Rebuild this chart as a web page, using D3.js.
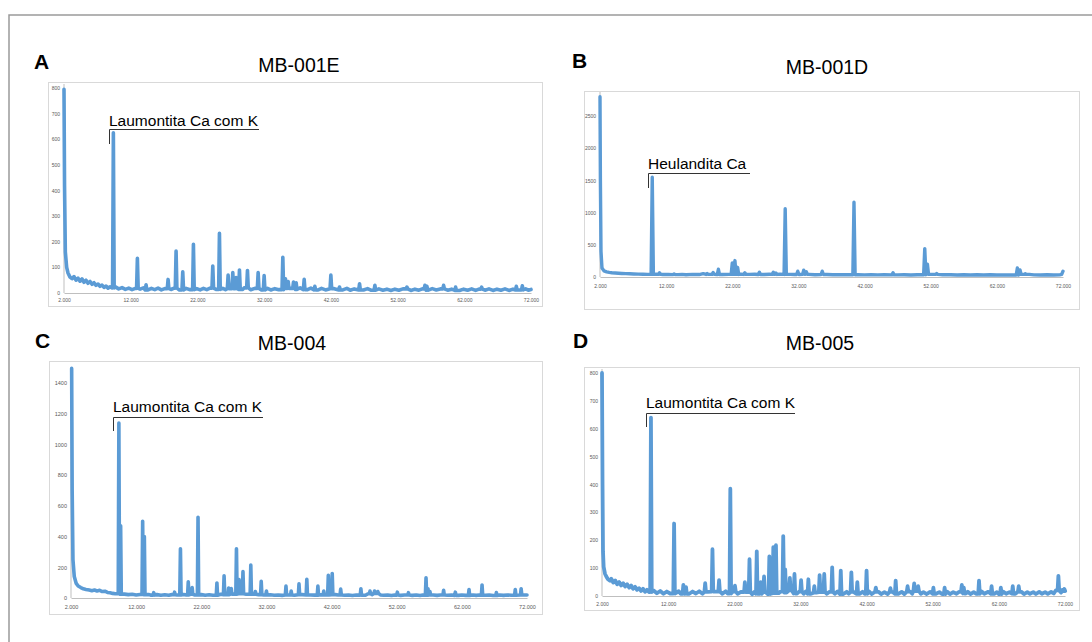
<!DOCTYPE html>
<html><head><meta charset="utf-8">
<script src="https://cdn.jsdelivr.net/npm/d3@7"></script>
<style>body{margin:0;background:#fff}svg{display:block;font-family:"Liberation Sans",Arial,sans-serif}</style>
</head><body>
<svg id="c" width="1092" height="642"></svg>
<script>
// ---------- DATA ----------
const xTicks=[2,12,22,32,42,52,62,72];
const xTickLabels=["2.000","12.000","22.000","32.000","42.000","52.000","62.000","72.000"];
const yTicksA=[0,100,200,300,400,500,600,700,800];
const yTicksB=[0,500,1000,1500,2000,2500];
const yTicksC=[0,200,400,600,800,1000,1200,1400];
const yTicksD=[0,100,200,300,400,500,600,700,800];
const panelLetters=["A","B","C","D"];
const sampleNames=["MB-001E","MB-001D","MB-004","MB-005"];
const phaseLabels=["Laumontita Ca com K","Heulandita Ca","Laumontita Ca com K","Laumontita Ca com K"];

// background points [2theta, counts]
const baseA=[[2.0,795],[2.08,420],[2.2,160],[2.4,100],[2.6,78],[2.9,62],[3.2,56],[3.5,64],[3.8,50],[4.1,58],[4.4,46],[4.7,55],[5.0,42],[5.3,50],[5.6,38],[5.9,45],[6.2,34],[6.5,40],[6.8,30],[7.1,35],[7.4,26],[7.7,31],[8.0,22],[8.3,27],[8.6,19],[8.9,24],[9.2,20],
[9.7,24],[10.2,16],[10.7,21],[11.2,14],[11.7,19],[12.2,13],[12.7,18],[13.4,15],[13.9,20],[14.6,12],[15.1,18],[15.6,13],[16.1,19],[16.6,12],[17.1,17],[18.1,14],[18.5,19],[19.3,12],[20.3,18],[20.9,13],[21.9,17],[22.4,12],[22.9,18],[23.4,13],[23.9,19],[24.8,14],[25.8,18],[26.2,13],[27.0,17],[28.8,14],[29.0,20],[30.0,13],[30.6,18],[31.6,12],[32.5,18],[33.0,12],[33.6,17],[34.2,13],[35.9,18],[36.9,14],[37.4,20],[38.5,13],[39.0,19],[40.1,12],[40.6,18],[41.2,12],[42.5,17],[43.8,12],[44.4,18],[44.9,11],[45.5,16],[46.9,12],[47.5,17],[48.0,11],[49.2,16],[49.8,11],[50.4,15],[51.0,10],[51.6,15],[52.2,11],[52.8,16],[54.0,10],[54.6,15],[55.2,11],[55.7,16],[56.6,11],[57.2,17],[57.8,12],[58.4,16],[59.5,11],[60.1,15],[61.3,10],[61.9,15],[62.5,11],[63.1,16],[63.7,10],[64.2,15],[65.1,11],[65.7,16],[66.3,10],[66.9,15],[67.5,11],[68.1,16],[68.7,10],[69.3,15],[70.2,12],[71.2,16],[71.6,11],[72.0,14]];
const peaksA=[[9.4,625],[13.0,135],[14.3,32],[17.6,53],[18.8,164],[19.8,83],[21.4,190],[24.3,105],[25.3,233],[26.6,70],[27.3,80],[27.8,60],[28.3,90],[29.5,88],[31.1,80],[32.0,68],[34.8,139],[35.2,55],[35.6,45],[36.4,43],[36.8,40],[38.0,53],[39.6,26],[42.0,70],[43.3,23],[46.3,36],[48.6,30],[53.4,23],[56.1,30],[56.4,26],[58.9,30],[60.7,23],[64.6,23],[69.8,26],[70.7,28]];

const baseB=[[2.0,2800],[2.06,1500],[2.15,400],[2.3,140],[2.6,95],[3.0,80],[3.4,72],[3.8,66],[4.3,62],[4.8,58],[5.3,55],[5.9,52],[6.5,50],[7.1,47],[7.8,45],[8.5,42],[9.2,40],[10.5,42],[11.5,38],[12.3,40],[13.8,37],[14.4,40],[15.0,36],[16.0,40],[17.0,38],[17.6,52],[18.6,40],[20.5,38],[21.5,40],[23.3,45],[24.6,40],[25.4,42],[26.8,38],[27.6,42],[29.2,45],[30.8,40],[31.4,38],[33.6,40],[34.5,36],[36.3,38],[37.2,35],[38.0,37],[39.0,34],[39.8,36],[41.0,35],[42.0,33],[43.0,36],[44.0,33],[45.0,35],[47.0,33],[48.0,35],[49.0,32],[50.0,36],[52.2,40],[53.8,34],[55.0,35],[56.0,31],[57.0,34],[58.0,31],[59.0,34],[60.0,31],[61.0,34],[62.0,30],[63.0,33],[64.0,31],[66.9,40],[67.6,33],[68.6,31],[69.6,34],[70.6,30],[71.5,33],[71.8,40],[72.0,90]];
const peaksB=[[9.9,1550],[11.0,65],[13.2,48],[18.2,55],[19.1,70],[19.9,120],[22.0,220],[22.4,255],[22.8,150],[23.9,65],[26.1,75],[28.2,75],[28.6,60],[30.0,1060],[31.9,90],[32.8,105],[33.2,80],[35.6,90],[40.4,1160],[46.3,65],[51.1,440],[51.5,200],[52.9,55],[65.1,140],[65.5,110],[66.3,50]];

const baseC=[[2.1,1495],[2.18,700],[2.3,250],[2.5,140],[2.8,95],[3.1,78],[3.5,68],[3.9,60],[4.3,56],[4.8,52],[5.2,48],[5.6,52],[6.0,46],[6.4,50],[6.8,42],[7.2,44],[7.6,36],[8.0,34],[8.4,30],[8.8,28],
[10.2,25],[10.8,22],[11.4,24],[12.0,20],[12.6,23],[13.9,22],[14.2,19],[15.2,22],[15.8,18],[16.4,21],[17.0,18],[17.5,22],[18.3,20],[19.3,23],[19.7,20],[20.3,24],[21.0,20],[22.0,22],[22.6,18],[23.2,21],[23.8,18],[25.0,24],[25.9,22],[26.9,25],[28.0,28],[28.9,24],[30.0,25],[30.8,22],[31.6,20],[32.6,21],[33.2,18],[33.8,20],[34.4,17],[35.4,20],[36.3,18],[37.5,22],[38.8,20],[39.4,19],[40.4,21],[41.0,20],[42.6,22],[43.0,20],[44.0,18],[44.6,20],[45.2,16],[45.8,19],[47.2,18],[47.6,28],[48.2,22],[48.9,30],[49.5,20],[50.0,18],[50.6,20],[51.2,16],[51.7,19],[52.6,17],[53.2,20],[54.4,17],[55.0,20],[55.6,16],[56.0,19],[57.6,20],[58.2,17],[58.7,20],[59.8,18],[60.4,20],[61.5,17],[62.0,20],[62.6,17],[63.7,19],[64.2,17],[64.7,19],[65.6,18],[66.2,20],[66.8,16],[67.8,20],[68.4,17],[69.0,20],[69.6,18],[71.5,20],[72.0,20]];
const peaksC=[[9.35,1140],[9.62,470],[13.0,500],[13.26,400],[14.7,35],[17.9,38],[18.8,320],[20.0,105],[20.6,68],[21.5,525],[24.4,98],[25.5,145],[26.2,65],[26.6,62],[27.4,320],[27.8,120],[28.4,172],[29.6,215],[30.3,42],[31.2,108],[32.0,45],[35.0,78],[35.8,45],[37.0,92],[38.2,122],[39.9,78],[40.8,45],[41.5,148],[42.1,160],[43.4,58],[46.5,60],[47.9,45],[48.6,45],[49.1,42],[52.1,38],[53.8,35],[56.5,132],[56.8,60],[57.1,42],[59.2,50],[61.0,38],[63.1,55],[65.1,85],[67.3,35],[70.2,55],[71.1,60]];

const baseD=[[2.0,800],[2.08,400],[2.15,160],[2.25,105],[2.45,80],[2.65,70],[2.9,60],[3.2,55],[3.4,62],[3.7,48],[4.0,56],[4.3,42],[4.6,50],[4.9,38],[5.2,46],[5.5,34],[5.8,42],[6.1,30],[6.4,38],[6.7,26],[7.0,33],[7.3,22],[7.6,28],[7.9,18],[8.2,26],[8.5,15],[8.8,22],[9.1,14],
[9.8,20],[10.3,10],[10.8,18],[11.3,8],[11.8,16],[12.3,9],[13.6,17],[13.9,8],[15.2,8],[15.7,16],[16.2,9],[16.7,17],[17.2,8],[18.0,15],[19.2,16],[20.2,8],[20.7,17],[21.0,9],[21.8,16],[22.5,8],[23.0,15],[24.0,14],[24.7,6],[25.0,14],[25.7,8],[26.8,14],[27.0,7],[28.7,10],[29.0,16],[29.9,12],[30.7,20],[31.5,9],[31.8,16],[32.5,8],[32.8,16],[33.6,8],[34.4,12],[35.2,14],[36.0,8],[36.4,15],[37.2,8],[37.6,16],[38.5,7],[39.0,15],[39.3,8],[40.0,15],[41.0,8],[41.4,15],[41.7,8],[42.4,16],[42.8,7],[43.8,15],[44.2,7],[44.7,14],[45.2,7],[45.9,15],[46.8,8],[47.3,15],[47.7,7],[48.6,16],[48.9,8],[49.5,18],[50.2,8],[50.6,14],[51.1,7],[51.6,15],[52.5,8],[53.0,14],[53.4,7],[54.2,15],[54.6,7],[55.1,14],[55.6,8],[56.0,15],[57.0,9],[57.3,15],[57.7,7],[58.2,14],[58.6,8],[59.4,16],[59.8,8],[60.4,15],[61.3,8],[61.7,14],[62.0,7],[62.7,15],[63.1,8],[63.6,14],[64.5,8],[65.4,15],[65.8,7],[66.3,14],[66.7,8],[67.2,14],[67.6,7],[68.1,15],[68.5,8],[69.0,14],[69.4,8],[69.9,15],[70.3,9],[70.6,20],[71.4,12],[71.6,22],[72.0,18]];
const peaksD=[[9.4,640],[12.9,260],[14.3,40],[14.7,32],[17.6,46],[18.7,168],[19.7,57],[21.4,385],[22.1,37],[23.6,50],[24.3,132],[25.4,160],[26.0,50],[26.5,70],[27.3,142],[27.9,175],[28.3,182],[29.4,215],[29.7,95],[30.4,65],[31.1,79],[32.1,57],[33.2,60],[34.1,35],[34.9,75],[35.6,79],[36.8,103],[38.1,91],[39.7,85],[40.6,50],[42.0,91],[43.4,30],[45.6,28],[46.4,55],[48.2,35],[49.2,45],[49.8,35],[52.1,30],[53.8,30],[56.4,40],[56.7,30],[59.0,55],[60.9,35],[62.3,30],[64.1,35],[65.0,35],[71.0,72],[71.9,25]];

// ---------- LAYOUT ----------
const layouts=[
 {frame:[48,82,542,306],px:[64,531],py:[293,88],yMax:800,ticks:yTicksA,base:baseA,peaks:peaksA,hw:0.12,sw:3.6,
  letter:[34,69],title:[299,72],ann:{x:109,y:126,ly:129,x2:259,vb:144},tf:5,xly:302},
 {frame:[584,91,1079,309],px:[600,1063],py:[277,116],yMax:2500,ticks:yTicksB,base:baseB,peaks:peaksB,hw:0.17,sw:3.4,
  letter:[572,68],title:[827,74],ann:{x:648,y:169,ly:173,x2:750,vb:188},tf:5,xly:288},
 {frame:[49,361,542,614],px:[71,527],py:[598,383],yMax:1400,ticks:yTicksC,base:baseC,peaks:peaksC,hw:0.1,sw:3.6,
  letter:[35,348],title:[292,350],ann:{x:113,y:412,ly:417,x2:263,vb:431},tf:5.5,xly:609},
 {frame:[584,367,1079,610],px:[602,1065],py:[596,373],yMax:800,ticks:yTicksD,base:baseD,peaks:peaksD,hw:0.12,sw:3.8,
  letter:[573,348],title:[820,350],ann:{x:646,y:408,ly:413,x2:795,vb:427},tf:5,xly:606}
];

const svg=d3.select("#c");
svg.append("path").attr("d","M9,642V15H1092").attr("fill","none").attr("stroke","#9a9a9a").attr("stroke-width",1.5);

function buildSeries(base,peaks,hw){
  const pts=base.filter(b=>!peaks.some(p=>Math.abs(p[0]-b[0])<hw+0.04)).map(d=>d.slice());
  peaks.forEach(p=>{
    let nearest=base.reduce((a,b)=>Math.abs(b[0]-p[0])<Math.abs(a[0]-p[0])?b:a);
    const foot=Math.min(nearest[1],40);
    pts.push([p[0]-hw,foot],[p[0],p[1]],[p[0]+hw,foot]);
  });
  return pts.sort((a,b)=>a[0]-b[0]);
}

layouts.forEach((L,i)=>{
  const g=svg.append("g");
  const [fx0,fy0,fx1,fy1]=L.frame;
  g.append("rect").attr("x",fx0+0.5).attr("y",fy0+0.5).attr("width",fx1-fx0).attr("height",fy1-fy0)
   .attr("fill","#fff").attr("stroke","#d9d9d9").attr("stroke-width",1);
  const x=d3.scaleLinear().domain([2,72]).range(L.px);
  const y=d3.scaleLinear().domain([0,L.yMax]).range(L.py);
  const ya=g.append("g").attr("transform",`translate(${L.px[0]},0)`)
    .call(d3.axisLeft(y).tickValues(L.ticks).tickSize(0).tickPadding(4).tickFormat(d3.format("d")));
  ya.select(".domain").attr("stroke","#bfbfbf").attr("d",`M0,${L.py[0]}V${y(L.yMax)-(i==1?24:4)}`);
  ya.selectAll("text").attr("font-size",L.tf).attr("fill","#595959").attr("font-family","Liberation Sans, Arial, sans-serif");
  const xa=g.append("g").attr("transform",`translate(0,${L.py[0]})`)
    .call(d3.axisBottom(x).tickValues(xTicks).tickSize(0).tickPadding(L.xly-L.py[0]-4).tickFormat((d,k)=>xTickLabels[k]));
  xa.select(".domain").attr("stroke","#bfbfbf");
  xa.selectAll("text").attr("font-size",L.tf).attr("fill","#595959").attr("font-family","Liberation Sans, Arial, sans-serif");
  const data=buildSeries(L.base,L.peaks,L.hw);
  g.append("path").datum(data)
   .attr("d",d3.line().x(d=>x(d[0])).y(d=>y(d[1])))
   .attr("fill","none").attr("stroke","#5B9BD5").attr("stroke-width",L.sw)
   .attr("stroke-linejoin","round").attr("stroke-linecap","round");
  g.append("text").attr("x",L.letter[0]).attr("y",L.letter[1]).text(panelLetters[i])
   .attr("font-size",21).attr("font-weight","bold").attr("fill","#000");
  g.append("text").attr("x",L.title[0]).attr("y",L.title[1]).attr("text-anchor","middle").text(sampleNames[i])
   .attr("font-size",19.5).attr("fill","#000");
  const a=L.ann;
  g.append("text").attr("x",a.x).attr("y",a.y).text(phaseLabels[i]).attr("font-size",15.5).attr("fill","#000");
  g.append("path").attr("d",`M${a.x+0.5},${a.vb}V${a.ly+0.5}H${a.x2}`).attr("fill","none").attr("stroke","#333").attr("stroke-width",1);
});
</script>
</body></html>
